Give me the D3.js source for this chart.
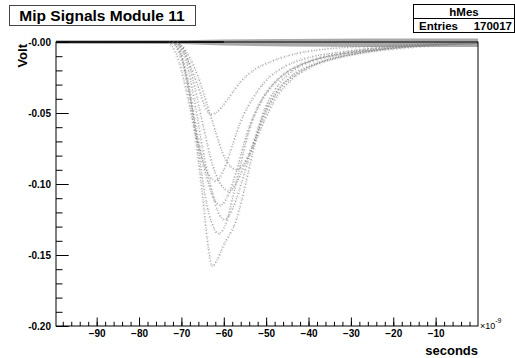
<!DOCTYPE html>
<html>
<head>
<meta charset="utf-8">
<script src="https://cdn.jsdelivr.net/npm/d3@7"></script>
<style>
  body { margin: 0; background: #fff; }
  svg { display: block; }
  text { font-family: "Liberation Sans", Arial, Helvetica, sans-serif; }
  .axis text { font-size: 10px; font-weight: bold; fill: #000; }
  .axis line { stroke: #000; }
</style>
</head>
<body>
<div id="chart"></div>
<script>
// tick values / labels
var xTicks = [-90, -80, -70, -60, -50, -40, -30, -20, -10];
var yTicks = [0, -0.05, -0.10, -0.15, -0.20];
var yTickLabels = ["-0.00", "-0.05", "-0.10", "-0.15", "-0.20"];

// baseline (pedestal) band, seconds x1e-9 / volt
var baseTime = [-99.6, -70, -60, -45, -25, 0];
var baseHigh = [0.0012, 0.0012, 0.0018, 0.0022, 0.0025, 0.0025];
var baseLow  = [-0.0012, -0.0014, -0.0024, -0.0032, -0.0036, -0.0036];

// individual pulses: [time (ns), volt]
var pulseA = [[-72,0],[-70,-0.004],[-68,-0.016],[-66,-0.032],[-64.5,-0.045],[-63,-0.051],[-61.5,-0.049],[-59,-0.040],[-56,-0.028],[-53,-0.020],[-49,-0.014],[-44,-0.009],[-36,-0.005],[-25,-0.003],[-10,-0.001],[0,0]];
var pulseB = [[-72,0],[-70.5,-0.004],[-69,-0.022],[-68,-0.038],[-66.3,-0.076],[-64.9,-0.111],[-63.9,-0.139],[-62.7,-0.158],[-61.5,-0.153],[-60,-0.143],[-57,-0.125],[-55,-0.102],[-53,-0.076],[-51,-0.053],[-48,-0.034],[-44,-0.021],[-38,-0.012],[-30,-0.007],[-18,-0.003],[0,-0.001]];
var pulseC = [[-72,0],[-70,-0.010],[-68,-0.035],[-66,-0.075],[-64.3,-0.110],[-62.5,-0.130],[-61.3,-0.135],[-59.5,-0.128],[-58,-0.111],[-56,-0.086],[-54,-0.062],[-51,-0.041],[-47,-0.026],[-41,-0.015],[-33,-0.009],[-22,-0.005],[-8,-0.002],[0,-0.001]];
var pulseD = [[-71,0],[-69,-0.012],[-67,-0.040],[-65,-0.075],[-62.8,-0.105],[-61,-0.122],[-59.8,-0.125],[-58,-0.118],[-56,-0.101],[-53.8,-0.079],[-51.3,-0.056],[-48,-0.037],[-44,-0.024],[-38,-0.015],[-30,-0.009],[-18,-0.004],[0,-0.001]];
var pulseE = [[-72,0],[-70,-0.012],[-68,-0.038],[-66,-0.070],[-63.8,-0.098],[-62,-0.112],[-60.8,-0.115],[-59,-0.108],[-57,-0.091],[-55,-0.069],[-52.5,-0.049],[-49,-0.032],[-45,-0.021],[-39,-0.013],[-31,-0.008],[-20,-0.004],[0,-0.001]];
var pulseF = [[-71,0],[-69,-0.008],[-67,-0.030],[-64.8,-0.060],[-62.5,-0.088],[-60.3,-0.102],[-58.7,-0.105],[-57,-0.099],[-55,-0.086],[-52.3,-0.066],[-49.8,-0.048],[-46.8,-0.033],[-42,-0.021],[-36,-0.013],[-28,-0.008],[-15,-0.003],[0,-0.001]];
var pulseG = [[-73,0],[-71,-0.010],[-69,-0.032],[-67,-0.060],[-64.8,-0.085],[-63,-0.096],[-61.8,-0.098],[-60,-0.090],[-58,-0.073],[-56,-0.056],[-53,-0.039],[-50,-0.027],[-46,-0.018],[-40,-0.011],[-32,-0.007],[-20,-0.003],[0,-0.001]];
var pulseH = [[-71,0],[-69,-0.006],[-66,-0.025],[-62.8,-0.055],[-60,-0.080],[-58.3,-0.088],[-57,-0.090],[-55.3,-0.086],[-53.3,-0.075],[-50.8,-0.058],[-47.8,-0.040],[-43.8,-0.026],[-39,-0.017],[-33,-0.011],[-25,-0.006],[-12,-0.002],[0,-0.001]];

var pulses = [pulseA, pulseB, pulseC, pulseD, pulseE, pulseF, pulseG, pulseH];

var entries = 170017;

var W = 515, H = 358;
var margin = { top: 42, right: 37, bottom: 32, left: 56 };

var svg = d3.select("#chart").append("svg")
    .attr("width", W)
    .attr("height", H);

var x = d3.scaleLinear()
    .domain([-99.6, 0])
    .range([margin.left, W - margin.right]);

var y = d3.scaleLinear()
    .domain([0, -0.2])
    .range([margin.top, H - margin.bottom]);

// pedestal band
var band = d3.area()
    .x(function(d, i) { return x(baseTime[i]); })
    .y0(function(d, i) { return y(baseLow[i]); })
    .y1(function(d, i) { return y(baseHigh[i]); });

svg.append("path")
    .datum(baseTime)
    .attr("d", band)
    .attr("fill", "#8c8c8c")
    .attr("opacity", 0.75);

// dense dark core of the pedestal
svg.append("path")
    .datum(baseTime.slice(0, 3))
    .attr("d", d3.line()
        .x(function(d) { return x(d); })
        .y(function() { return y(0); }))
    .attr("stroke", "#2a2a2a")
    .attr("stroke-width", 2.2)
    .attr("fill", "none");

// pulses drawn as scattered dots
var line = d3.line()
    .x(function(d) { return x(d[0]); })
    .y(function(d) { return y(d[1]); })
    .curve(d3.curveMonotoneX);

// faint spread around each pulse
svg.selectAll("path.pulse-halo")
    .data(pulses)
    .enter().append("path")
    .attr("class", "pulse-halo")
    .attr("d", line)
    .attr("fill", "none")
    .attr("stroke", "#aaa")
    .attr("stroke-width", 3.5)
    .attr("stroke-dasharray", "0.8,3.2")
    .attr("opacity", 0.45);

svg.selectAll("path.pulse")
    .data(pulses)
    .enter().append("path")
    .attr("class", "pulse")
    .attr("d", line)
    .attr("fill", "none")
    .attr("stroke", "#808080")
    .attr("stroke-width", 1.2)
    .attr("stroke-dasharray", "1,1.8")
    .attr("opacity", 0.7);

// frame
svg.append("rect")
    .attr("x", x(-99.6))
    .attr("y", y(0))
    .attr("width", x(0) - x(-99.6))
    .attr("height", y(-0.2) - y(0))
    .attr("fill", "none")
    .attr("stroke", "#000")
    .attr("stroke-width", 1);

// axes (ticks drawn inward like ROOT)
var xMinor = d3.range(-98, 0, 2);
var yMinor = d3.range(0, 21).map(function(i) { return -i / 100; });

svg.append("g")
    .attr("class", "axis")
    .attr("transform", "translate(0," + y(-0.2) + ")")
    .call(d3.axisBottom(x).tickValues(xMinor).tickSize(-4.2).tickSizeOuter(0).tickFormat(""))
    .select(".domain").remove();

svg.append("g")
    .attr("class", "axis x-axis")
    .attr("transform", "translate(0," + y(-0.2) + ")")
    .call(d3.axisBottom(x).tickValues(xTicks).tickSize(-8.5).tickSizeOuter(0).tickPadding(4))
    .select(".domain").remove();

svg.append("g")
    .attr("class", "axis")
    .attr("transform", "translate(" + x(-99.6) + ",0)")
    .call(d3.axisLeft(y).tickValues(yMinor).tickSize(-6.5).tickSizeOuter(0).tickFormat(""))
    .select(".domain").remove();

svg.append("g")
    .attr("class", "axis y-axis")
    .attr("transform", "translate(" + x(-99.6) + ",0)")
    .call(d3.axisLeft(y).tickValues(yTicks).tickSize(-12.7).tickSizeOuter(0).tickPadding(5)
        .tickFormat(function(d, i) { return yTickLabels[i]; }))
    .select(".domain").remove();

// axis titles
svg.append("text")
    .attr("x", x(0))
    .attr("y", 355)
    .attr("text-anchor", "end")
    .attr("font-size", 13)
    .attr("font-weight", "bold")
    .text("seconds");

svg.append("text")
    .attr("transform", "translate(27," + y(0) + ") rotate(-90)")
    .attr("x", -2)
    .attr("text-anchor", "end")
    .attr("font-size", 13)
    .attr("font-weight", "bold")
    .text("Volt");

var exp = svg.append("text")
    .attr("x", x(0) + 2)
    .attr("y", y(-0.2) + 3)
    .attr("font-size", 9)
    .text("\u00d710");
exp.append("tspan")
    .attr("dy", -6)
    .attr("font-size", 7)
    .text("-9");

// title box
svg.append("rect")
    .attr("x", 9.5).attr("y", 5.5)
    .attr("width", 186).attr("height", 20)
    .attr("fill", "#fff")
    .attr("stroke", "#444");

svg.append("text")
    .attr("x", 102)
    .attr("y", 21)
    .attr("text-anchor", "middle")
    .attr("font-size", 15.5)
    .attr("font-weight", "bold")
    .text("Mip Signals Module 11");

// stats box
svg.append("rect")
    .attr("x", 413.5).attr("y", 4.5)
    .attr("width", 101).attr("height", 28)
    .attr("fill", "#fff")
    .attr("stroke", "#000");

svg.append("line")
    .attr("x1", 413.5).attr("x2", 514.5)
    .attr("y1", 18.5).attr("y2", 18.5)
    .attr("stroke", "#000");

svg.append("text")
    .attr("x", 464)
    .attr("y", 16)
    .attr("text-anchor", "middle")
    .attr("font-size", 11.5)
    .attr("font-weight", "bold")
    .text("hMes");

svg.append("text")
    .attr("x", 419)
    .attr("y", 30)
    .attr("font-size", 11.5)
    .attr("font-weight", "bold")
    .text("Entries");

svg.append("text")
    .attr("x", 512)
    .attr("y", 30)
    .attr("text-anchor", "end")
    .attr("font-size", 11.5)
    .attr("font-weight", "bold")
    .text(entries);
</script>
</body>
</html>
